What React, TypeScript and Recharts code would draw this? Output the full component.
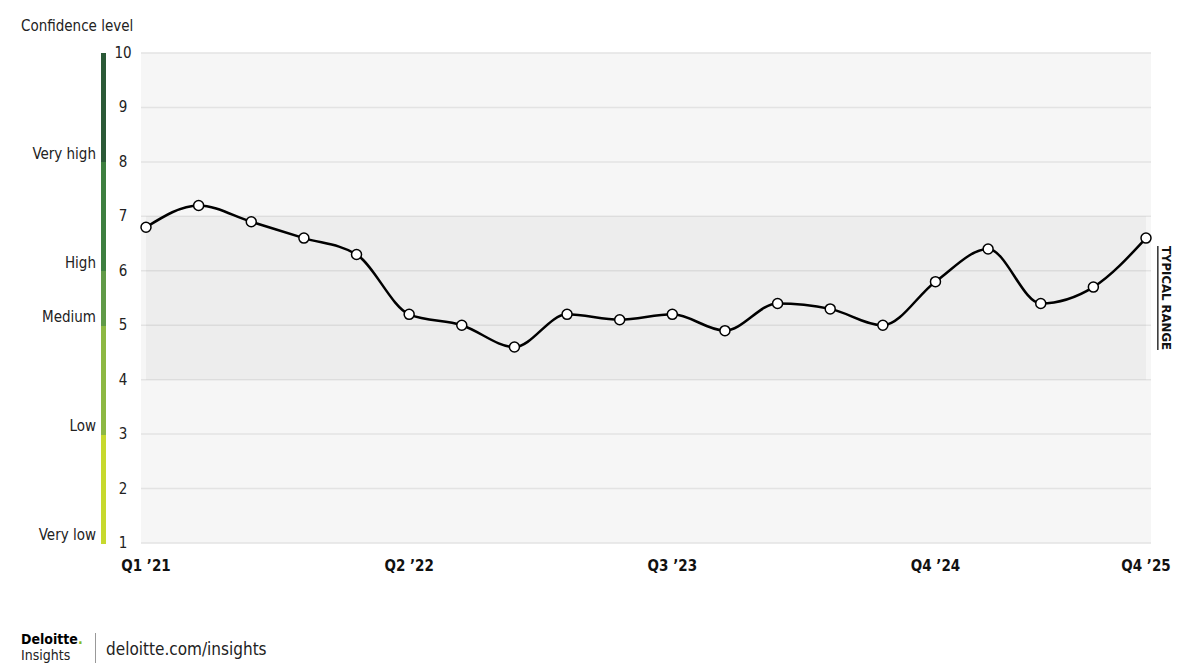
import React from "react";
import { LineChart, Line, XAxis, YAxis, CartesianGrid, ReferenceArea } from "recharts";

const quarters = [
  "Q1 ’21", "Q2 ’21", "Q3 ’21", "Q4 ’21",
  "Q1 ’22", "Q2 ’22", "Q3 ’22", "Q4 ’22",
  "Q1 ’23", "Q2 ’23", "Q3 ’23", "Q4 ’23",
  "Q1 ’24", "Q2 ’24", "Q3 ’24", "Q4 ’24",
  "Q1 ’25", "Q2 ’25", "Q3 ’25", "Q4 ’25",
];
const confidence = [6.8, 7.2, 6.9, 6.6, 6.3, 5.2, 5.0, 4.6, 5.2, 5.1, 5.2, 4.9, 5.4, 5.3, 5.0, 5.8, 6.4, 5.4, 5.7, 6.6];
const shownQuarters = ["Q1 ’21", "Q2 ’22", "Q3 ’23", "Q4 ’24", "Q4 ’25"];
const yTicks = [1, 2, 3, 4, 5, 6, 7, 8, 9, 10];
const typicalRange = [4, 7];

// confidence bands on the left scale
const levelStarts = [1, 3, 5, 6, 8];
const levelNames = ["Very low", "Low", "Medium", "High", "Very high"];
const levelColors = ["#c7d92e", "#8db843", "#609a47", "#3d7f3f", "#2b5937"];

const data = quarters.map((q, i) => ({ q, v: confidence[i] }));

const FONT = "'Liberation Sans Narrow', 'DejaVu Sans Condensed', Roboto, sans-serif";
const W = 1189;
const H = 600;
const TOP = 53;
const XH = 57;
const STEP = (H - TOP - XH) / (yTicks.length - 1);

const levelFor = (v: number) => {
  let idx = 0;
  levelStarts.forEach((s, i) => {
    if (v >= s) idx = i;
  });
  return idx;
};

const YTick = (props: any) => {
  const { y, payload } = props;
  const v = payload.value as number;
  const li = levelFor(v);
  const nameIdx = levelStarts.indexOf(v);
  return (
    <g>
      {v < 10 && (
        <rect x={101} y={y - STEP - 0.5} width={5} height={STEP + 1} fill={levelColors[li]} shapeRendering="crispEdges" />
      )}
      {nameIdx >= 0 && (
        <text x={96} y={y - 3} textAnchor="end" fontSize={15} fill="#222" fontFamily={FONT}>
          {levelNames[nameIdx]}
        </text>
      )}
      <text x={123} y={y + 5} textAnchor="middle" fontSize={15} fill="#222" fontFamily={FONT}>
        {v}
      </text>
    </g>
  );
};

const XTick = (props: any) => {
  const { x, y, payload } = props;
  if (!shownQuarters.includes(payload.value)) return null;
  return (
    <text x={x} y={y + 20} textAnchor="middle" fontSize={15} fontWeight="bold" fill="#111" fontFamily={FONT}>
      {payload.value}
    </text>
  );
};

const RangeLabel = (props: any) => {
  const vb = props.viewBox || {};
  const cx = vb.x + vb.width + 20;
  const cy = vb.y + vb.height / 2;
  return (
    <text
      x={cx}
      y={cy}
      transform={`rotate(90 ${cx} ${cy})`}
      textAnchor="middle"
      dominantBaseline="central"
      fontSize={13}
      fontWeight="bold"
      fill="#111"
      fontFamily={FONT}
      style={{ textDecoration: "underline" }}
    >
      TYPICAL RANGE
    </text>
  );
};

const Dot = (props: any) => {
  const { cx, cy } = props;
  return <circle cx={cx} cy={cy} r={5} fill="#fff" stroke="#000" strokeWidth={1.5} />;
};

export default function App() {
  return (
    <div
      style={{
        position: "absolute",
        left: 0,
        top: 0,
        width: W,
        height: 671,
        background: "#fff",
        fontFamily: FONT,
        color: "#222",
      }}
    >
      <div style={{ position: "absolute", left: 21, top: 17, fontSize: 15 }}>Confidence level</div>
      <LineChart width={W} height={H} data={data} margin={{ top: TOP, right: 38, left: 0, bottom: 0 }}>
        <CartesianGrid vertical={false} fill="#f6f6f6" stroke="#e3e3e3" strokeWidth={1.5} />
        <ReferenceArea
          y1={typicalRange[0]}
          y2={typicalRange[1]}
          fill="#000"
          fillOpacity={0.035}
          stroke="none"
          label={<RangeLabel />}
        />
        <XAxis
          dataKey="q"
          interval={0}
          axisLine={false}
          tickLine={false}
          padding={{ left: 5, right: 5 }}
          height={XH}
          tick={<XTick />}
        />
        <YAxis
          domain={[1, 10]}
          ticks={yTicks}
          width={141}
          axisLine={false}
          tickLine={false}
          tick={<YTick />}
        />
        <Line
          type="monotone"
          dataKey="v"
          stroke="#000"
          strokeWidth={2.5}
          dot={<Dot />}
          activeDot={false}
          isAnimationActive={false}
        />
      </LineChart>
      <div style={{ position: "absolute", left: 21, top: 632, fontWeight: "bold", fontSize: 14, lineHeight: "15px", color: "#000" }}>
        Deloitte<span style={{ color: "#86bc25" }}>.</span>
      </div>
      <div style={{ position: "absolute", left: 21, top: 648, fontSize: 14, lineHeight: "15px", color: "#222" }}>Insights</div>
      <div style={{ position: "absolute", left: 95, top: 633, width: 1, height: 30, background: "#999" }} />
      <div style={{ position: "absolute", left: 106, top: 639, fontSize: 17, lineHeight: "20px", color: "#222" }}>
        deloitte.com/insights
      </div>
    </div>
  );
}
